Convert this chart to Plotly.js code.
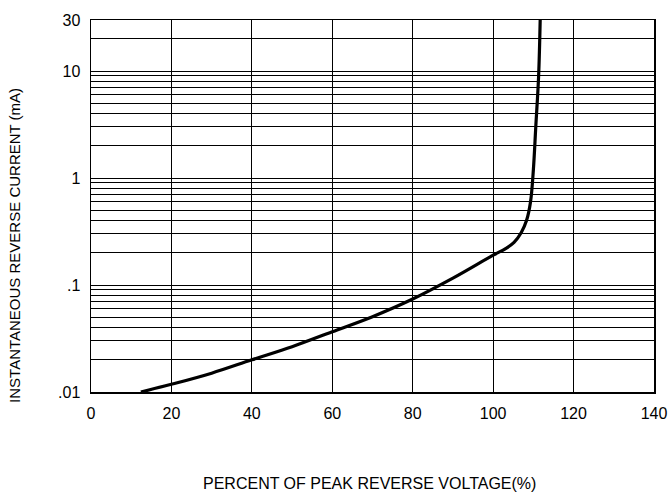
<!DOCTYPE html>
<html>
<head>
<meta charset="utf-8">
<script src="https://cdn.plot.ly/plotly-3.0.1.min.js"></script>
<style>html,body{margin:0;padding:0;background:#fff;}#chart{width:670px;height:495px;}</style>
</head>
<body>
<div id="chart"></div>
<script>
// Percent of peak reverse voltage (%)
const voltagePct = [12.4, 20, 30, 40, 50, 60, 70, 80, 90, 100, 103, 105.2, 107, 108.3, 109.3, 110.0, 110.6, 111.3, 111.7];
// Instantaneous reverse current (mA)
const currentMA = [0.01, 0.0118, 0.015, 0.02, 0.0265, 0.0366, 0.0506, 0.074, 0.116, 0.19, 0.218, 0.25, 0.31, 0.40, 0.6, 1.19, 3.0, 8.85, 30];

const xTicks = [0, 20, 40, 60, 80, 100, 120, 140];
const yGridVals = [0.01,0.02,0.03,0.04,0.05,0.06,0.07,0.08,0.09,
                   0.1,0.2,0.3,0.4,0.5,0.6,0.7,0.8,0.9,
                   1,2,3,4,5,6,7,8,9,
                   10,20,30];
const yLabelMap = {0.01: '.01', 0.1: '.1', 1: '1', 10: '10', 30: '30'};
const yTickText = yGridVals.map(v => yLabelMap[v] !== undefined ? yLabelMap[v] : '');
const xTitle = 'PERCENT OF PEAK REVERSE VOLTAGE(%)';
const yTitle = 'INSTANTANEOUS REVERSE CURRENT (mA)';

const trace = {
  x: voltagePct, y: currentMA, type: 'scatter', mode: 'lines',
  line: {color: '#000', width: 3.2, shape: 'spline', smoothing: 1},
  hoverinfo: 'skip'
};

const layout = {
  width: 670, height: 495,
  margin: {l: 91, r: 16, t: 20, b: 103},
  paper_bgcolor: '#fff', plot_bgcolor: '#fff',
  showlegend: false,
  font: {family: 'Liberation Sans, Arial, sans-serif', color: '#000'},
  xaxis: {
    range: [0, 140], tickvals: xTicks, ticktext: xTicks.map(String),
    showgrid: true, gridcolor: '#000', gridwidth: 1,
    zeroline: false, showline: true, linecolor: '#000', linewidth: 1.5, mirror: true,
    ticks: 'outside', ticklen: 6, tickcolor: 'rgba(0,0,0,0)',
    tickfont: {size: 16},
    automargin: false
  },
  yaxis: {
    type: 'log', range: [Math.log10(0.01), Math.log10(30)],
    tickvals: yGridVals, ticktext: yTickText,
    showgrid: true, gridcolor: '#000', gridwidth: 1,
    zeroline: false, showline: true, linecolor: '#000', linewidth: 1.5, mirror: true,
    ticks: 'outside', ticklen: 6, tickcolor: 'rgba(0,0,0,0)',
    tickfont: {size: 16},
    automargin: false
  },
  annotations: [
    {text: xTitle, xref: 'paper', yref: 'paper', x: 0.494, y: -0.245,
     xanchor: 'center', yanchor: 'middle', showarrow: false, font: {size: 16}},
    {text: yTitle, xref: 'paper', yref: 'paper', x: -0.137, y: 0.395, textangle: -90,
     xanchor: 'center', yanchor: 'middle', showarrow: false, font: {size: 15}}
  ]
};

Plotly.newPlot('chart', [trace], layout, {displayModeBar: false, staticPlot: true});
</script>
</body>
</html>
